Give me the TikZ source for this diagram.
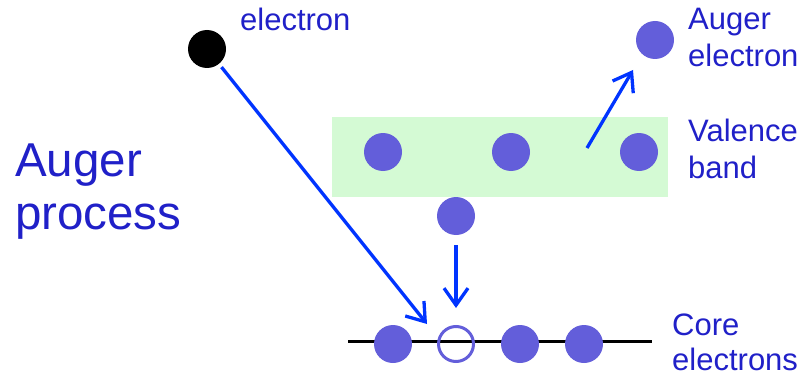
\documentclass[tikz,border=0pt]{standalone}
\usepackage{fontspec}
\setmainfont{Liberation Sans}
\usetikzlibrary{arrows.meta}
\definecolor{txtblue}{RGB}{32,32,200}
\definecolor{dotblue}{RGB}{99,94,218}
\definecolor{arrblue}{RGB}{0,52,255}
\definecolor{bandgreen}{RGB}{212,250,212}
\tikzset{
  dot/.style={circle,fill=dotblue,minimum size=38pt,inner sep=0pt},
  hole/.style={circle,draw=dotblue,line width=3pt,minimum size=35pt,inner sep=0pt},
  lbl/.style={anchor=base west,inner sep=0pt,text=txtblue,font=\fontsize{31}{37}\selectfont},
  biglbl/.style={anchor=base west,inner sep=0pt,text=txtblue,font=\fontsize{47.5}{53}\selectfont},
  arr/.style={draw=arrblue,line width=3.3pt,-{Straight Barb[length=17pt,width=24pt,line width=3.3pt]}}
}
\begin{document}
\begin{tikzpicture}[x=1pt,y=-1pt]
\useasboundingbox (0,0) rectangle (802,377);
% valence band
\node[fill=bandgreen,minimum width=336pt,minimum height=80pt,inner sep=0pt,anchor=north west] (band) at (332,117) {};
% core line
\coordinate (cl) at (348,341);
\coordinate (cr) at (652,341);
\draw[line width=3pt] (cl) -- (cr);
% electrons
\node[circle,fill=black,minimum size=38pt,inner sep=0pt] (inc) at (207,49) {};
\node[dot] (v1) at (383,152) {};
\node[dot] (v2) at (511,152) {};
\node[dot] (v3) at (639,152) {};
\node[dot] (mid) at (456,216) {};
\node[dot] (aug) at (655,40) {};
\node[dot] (c1) at (393,344) {};
\node[hole] (h) at (456,344) {};
\node[dot] (c3) at (520,344) {};
\node[dot] (c4) at (584,344) {};
% arrows
\coordinate (inctip) at (427,324);
\coordinate (upstart) at (587,148);
\coordinate (uptip) at (633,70);
\draw[arr,shorten <=4pt] (inc) -- (inctip);
\draw[arr,shorten <=10pt,shorten >=17pt] (mid) -- (h);
\draw[arr] (upstart) -- (uptip);
% labels
\node[lbl] (telec) at (240,31) {electron};
\node[lbl] (taug1) at (688,30) {Auger};
\node[lbl] (taug2) at (688,67) {electron};
\node[lbl] (tval1) at (688,141) {Valence};
\node[lbl] (tval2) at (688,178) {band};
\node[lbl] (tcore1) at (672,335) {Core};
\node[lbl] (tcore2) at (672,370) {electrons};
\node[biglbl] (tproc1) at (15,176) {Auger};
\node[biglbl] (tproc2) at (15,229) {process};
\end{tikzpicture}
\end{document}
